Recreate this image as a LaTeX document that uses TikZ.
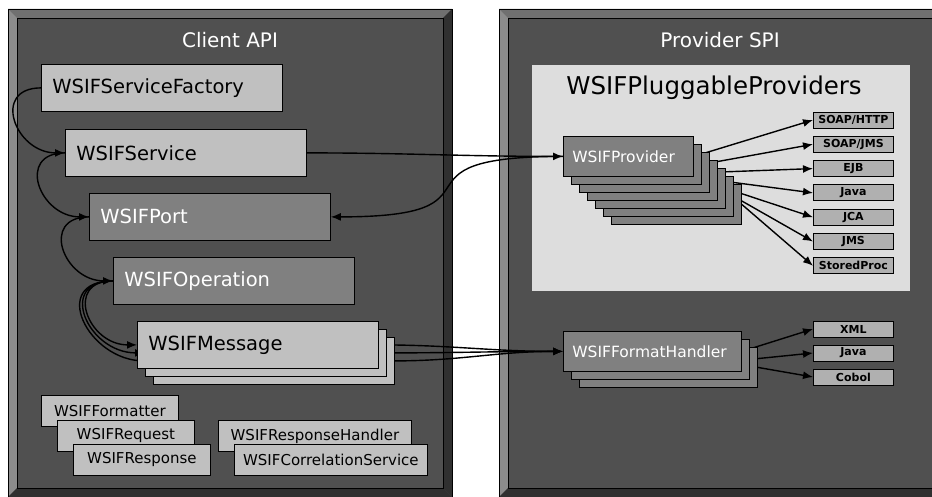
\documentclass[tikz,border=0pt]{standalone}
\usepackage{fontspec}
\setmainfont{DejaVu Sans}
\usetikzlibrary{arrows.meta,calc}
\pgfdeclarelayer{panels}
\pgfdeclarelayer{wires}
\pgfsetlayers{panels,wires,main}

\definecolor{panelfill}{RGB}{80,80,80}
\definecolor{bevellight}{RGB}{140,140,140}
\definecolor{beveltop}{RGB}{112,112,112}
\definecolor{beveldark}{RGB}{48,48,48}
\definecolor{boxlight}{RGB}{192,192,192}
\definecolor{boxdark}{RGB}{128,128,128}
\definecolor{plugfill}{RGB}{221,221,221}
\definecolor{implfill}{RGB}{176,176,176}

\begin{document}
\begin{tikzpicture}[x=1pt,y=-1pt,
  bigbox/.style={draw=black,line width=0.8pt,anchor=north west,minimum height=47pt,text width=219pt,inner xsep=11pt,align=left,font=\fontsize{19.5}{22}\selectfont},
  lightbox/.style={bigbox,fill=boxlight,text=black},
  darkbox/.style={bigbox,fill=boxdark,text=white},
  smallbox/.style={draw=black,line width=0.8pt,fill=boxlight,anchor=north west,minimum height=31pt,inner sep=0pt,font=\fontsize{15}{17}\selectfont},
  provbox/.style={draw=black,line width=0.8pt,fill=boxdark,text=white,anchor=north west,minimum height=40pt,inner xsep=9pt,align=left,font=\fontsize{15.5}{17}\selectfont},
  implbox/.style={draw=black,line width=0.8pt,fill=implfill,anchor=west,minimum width=80pt,minimum height=16pt,inner sep=0pt,font=\bfseries\fontsize{11}{12}\selectfont},
  paneltitle/.style={text=white,font=\fontsize{20}{24}\selectfont},
  wire/.style={line width=1.4pt,->,>={Latex[length=10pt,width=8pt]}}]

\useasboundingbox (0,0) rectangle (932,497);

% the two bevelled panels
\begin{pgfonlayer}{panels}
\foreach \xa/\xb/\name [count=\ni] in {8/452/Client API,499/941/Provider SPI}
{
  \fill[panelfill] (\xa,9) rectangle (\xb,497);
  \fill[beveltop] (\xa,9) -- (\xb,9) -- ({\xb-9},18) -- ({\xa+9},18) -- cycle;
  \fill[bevellight] (\xa,9) -- ({\xa+9},18) -- ({\xa+9},488) -- (\xa,497) -- cycle;
  \fill[beveldark] (\xb,9) -- ({\xb-9},18) -- ({\xb-9},488) -- (\xb,497) -- cycle;
  \fill[beveldark] (\xa,497) -- ({\xa+9},488) -- ({\xb-9},488) -- (\xb,497) -- cycle;
  \draw[line width=0.6pt] (\xa,9) rectangle (\xb,497);
  \draw[line width=0.6pt] ({\xa+9},18) rectangle ({\xb-9},488);
  \node[paneltitle] (title\ni) at ({(\xa+\xb)/2},40) {\name};
}
\node[fill=plugfill,anchor=north west,minimum width=378pt,minimum height=226pt] (plug) at (532,65) {};
\node[font=\fontsize{24.5}{28}\selectfont] (plugtitle) at (714,88) {WSIFPluggableProviders};
\end{pgfonlayer}

% client side
\node[lightbox] (factory) at (41,64) {WSIFServiceFactory};
\node[lightbox] (service) at (65,129) {WSIFService};
\node[darkbox] (port) at (89,193) {WSIFPort};
\node[darkbox] (op) at (113,257) {WSIFOperation};
\foreach \k in {2,1}
  \node[lightbox] (msg\k) at ({137+8*\k},{321+8*\k}) {};
\node[lightbox] (msg0) at (137,321) {WSIFMessage};

\node[smallbox,minimum width=137pt] (formatter) at (41,395) {WSIFFormatter};
\node[smallbox,minimum width=137pt] (request) at (57,420) {WSIFRequest};
\node[smallbox,minimum width=137pt] (response) at (73,444) {WSIFResponse};
\node[smallbox,minimum width=193pt] (rhandler) at (218,420) {WSIFResponseHandler};
\node[smallbox,minimum width=193pt] (correlation) at (234,444) {WSIFCorrelationService};

% provider side
\foreach \k in {6,5,...,1}
  \node[provbox,text width=112pt] (prov\k) at ({563+8*\k},{136+8*\k}) {};
\node[provbox,text width=112pt] (prov0) at (563,136) {WSIFProvider};

\def\impls{SOAP/HTTP,SOAP/JMS,EJB,Java,JCA,JMS,StoredProc}
\foreach \n [count=\ni from 0] in \impls
  \node[implbox] (impl\ni) at (813,{120+24.3*\ni}) {\n};

\foreach \k in {2,1}
  \node[provbox,text width=160pt] (fh\k) at ({563+8*\k},{331+8*\k}) {};
\node[provbox,text width=160pt] (fh0) at (563,331) {WSIFFormatHandler};

\def\formats{XML,Java,Cobol}
\foreach \n [count=\ni from 0] in \formats
  \node[implbox] (fmt\ni) at (813,{329+24*\ni}) {\n};

% draw the connectors
\begin{pgfonlayer}{wires}
\draw[wire] (factory.west) to[out=180,in=180,looseness=1.85] (service.west);
\draw[wire] (service.west) to[out=180,in=180,looseness=1.85] (port.west);
\draw[wire] (port.west) to[out=180,in=180,looseness=1.85] (op.west);
\foreach \k in {0,1,2}
  \draw[wire] (op.west) to[out=180,in=180,looseness=1.85] (msg\k.west);

\draw[wire] (service.east) to[out=0,in=180] (prov0.west);
\draw[wire] (prov0.west) to[out=180,in=0,looseness=2] (port.east);
\foreach \k in {0,1,2}
  \draw[wire] (msg\k.east) to[out=0,in=180] (fh0.west);

\foreach \ni in {0,...,6}
  \draw[wire] (prov\ni.east) -- (impl\ni.west);
\foreach \ni in {0,1,2}
  \draw[wire] (fh\ni.east) -- (fmt\ni.west);
\end{pgfonlayer}
\end{tikzpicture}
\end{document}
